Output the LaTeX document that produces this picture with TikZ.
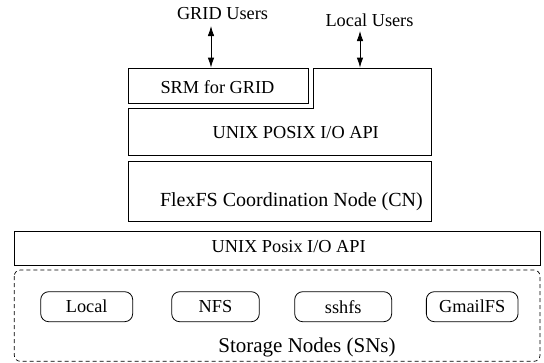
\documentclass[tikz,border=0pt]{standalone}
\usepackage{fontspec}
\setmainfont{Liberation Serif}
\usetikzlibrary{arrows.meta}
\begin{document}
\begin{tikzpicture}[x=1pt,y=-1pt,
  line width=0.8pt,
  lbl/.style={inner sep=0pt,font=\fontsize{18.3}{20}\selectfont},
  boxnode/.style={draw,inner sep=0pt,anchor=north west},
  fsbox/.style={draw,rounded corners=8pt,minimum height=30pt,inner sep=0pt,font=\fontsize{18.3}{20}\selectfont},
  biarrow/.style={{Latex[length=10pt,width=6.5pt]}-{Latex[length=10pt,width=6.5pt]}}
]
\useasboundingbox (0,0) rectangle (544,362);

% top users
\node[lbl] (gridusers) at (222.5,14) {GRID Users};
\node[lbl] (localusers) at (369.5,20) {Local Users};

% SRM box
\node[boxnode,minimum width=180pt,minimum height=35pt] (srm) at (128,68) {};
\node[lbl] (srmtxt) at (217.5,87) {SRM for GRID};

% L-shaped POSIX box
\coordinate (la) at (128,108);
\coordinate (lb) at (313,108);
\coordinate (lc) at (313,68);
\coordinate (ld) at (431,68);
\coordinate (le) at (431,155);
\coordinate (lf) at (128,155);
\draw (la) -- (lb) -- (lc) -- (ld) -- (le) -- (lf) -- cycle;
\node[lbl] (posixtxt) at (295.7,132.5) {UNIX POSIX I/O API};

% arrows
\coordinate (ga) at (211,26);
\coordinate (gb) at (211,67.6);
\draw[biarrow] (ga) -- (gb);
\coordinate (lua) at (360,31);
\coordinate (lub) at (360,67.6);
\draw[biarrow] (lua) -- (lub);

% CN box
\node[boxnode,minimum width=303pt,minimum height=60pt] (cn) at (128,161) {};
\node[inner sep=0pt,font=\fontsize{20}{22}\selectfont] (cntxt) at (291.4,202) {FlexFS Coordination Node (CN)};

% lower POSIX box
\node[boxnode,minimum width=525.7pt,minimum height=34.3pt] (posix2) at (14.3,230.7) {};
\node[lbl] (posix2txt) at (288.7,246.5) {UNIX Posix I/O API};

% storage nodes dashed container
\draw[dash pattern=on 4pt off 3pt,rounded corners=6pt,line width=0.7pt] (14.3,270) rectangle (540,361.3);
\node[fsbox,minimum width=92pt] (local) at (86.7,306.7) {Local};
\node[fsbox,minimum width=87.6pt] (nfs) at (215.5,306.7) {NFS};
\node[fsbox,minimum width=97pt] (sshfs) at (343.2,306.7) {sshfs};
\node[fsbox,minimum width=91.7pt] (gmailfs) at (472.2,306.7) {GmailFS};
\node[inner sep=0pt,font=\fontsize{21}{23}\selectfont] (sntxt) at (307,347) {Storage Nodes (SNs)};
\end{tikzpicture}
\end{document}
